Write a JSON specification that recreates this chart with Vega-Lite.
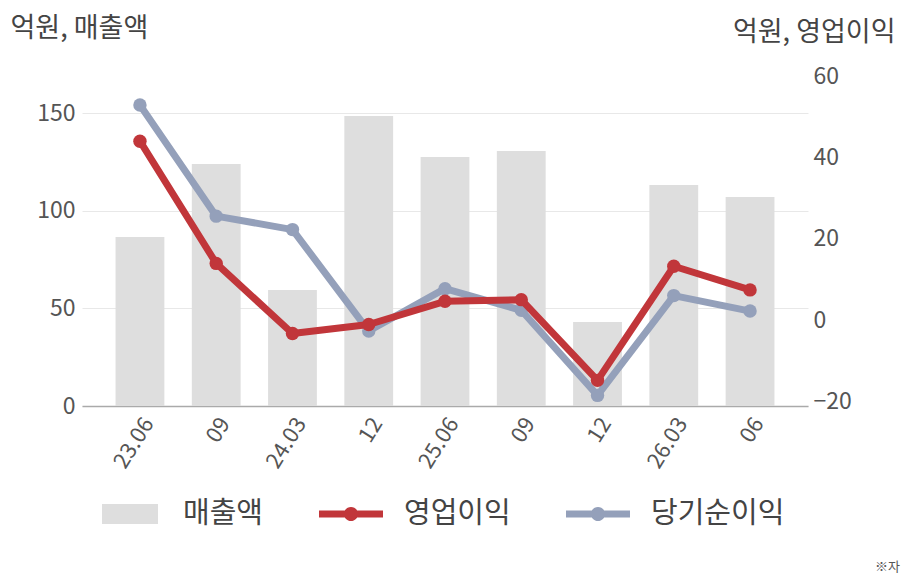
{
  "$schema": "https://vega.github.io/schema/vega-lite/v6.json",
  "width": 726,
  "height": 330,
  "autosize": "none",
  "padding": {"left": 82, "top": 76, "right": 100, "bottom": 174},
  "background": "white",
  "config": {
    "view": {"stroke": null},
    "font": "Noto Sans CJK KR"
  },
  "title": {
    "text": "※자",
    "orient": "bottom",
    "anchor": "end",
    "frame": "group",
    "fontSize": 13,
    "fontWeight": "normal",
    "color": "#555",
    "dx": 92,
    "offset": 32
  },
  "datasets": {
    "sales": [
      {"q": "23.06", "series": "매출액", "v": 86.5},
      {"q": "23.09", "series": "매출액", "v": 123.9},
      {"q": "24.03", "series": "매출액", "v": 59.4},
      {"q": "24.12", "series": "매출액", "v": 148.5},
      {"q": "25.06", "series": "매출액", "v": 127.5},
      {"q": "25.09", "series": "매출액", "v": 130.6},
      {"q": "25.12", "series": "매출액", "v": 43.0},
      {"q": "26.03", "series": "매출액", "v": 113.2},
      {"q": "26.06", "series": "매출액", "v": 107.0}
    ],
    "profit": [
      {"q": "23.06", "series": "당기순이익", "v": 52.9},
      {"q": "23.09", "series": "당기순이익", "v": 25.6},
      {"q": "24.03", "series": "당기순이익", "v": 22.3},
      {"q": "24.12", "series": "당기순이익", "v": -2.6},
      {"q": "25.06", "series": "당기순이익", "v": 7.8},
      {"q": "25.09", "series": "당기순이익", "v": 2.5},
      {"q": "25.12", "series": "당기순이익", "v": -18.4},
      {"q": "26.03", "series": "당기순이익", "v": 6.1},
      {"q": "26.06", "series": "당기순이익", "v": 2.3},
      {"q": "23.06", "series": "영업이익", "v": 44.0},
      {"q": "23.09", "series": "영업이익", "v": 14.0},
      {"q": "24.03", "series": "영업이익", "v": -3.2},
      {"q": "24.12", "series": "영업이익", "v": -1.0},
      {"q": "25.06", "series": "영업이익", "v": 4.7},
      {"q": "25.09", "series": "영업이익", "v": 5.1},
      {"q": "25.12", "series": "영업이익", "v": -14.7},
      {"q": "26.03", "series": "영업이익", "v": 13.3},
      {"q": "26.06", "series": "영업이익", "v": 7.5}
    ]
  },
  "encoding": {
    "x": {
      "field": "q",
      "type": "ordinal",
      "sort": null,
      "scale": {"paddingInner": 0.36, "paddingOuter": 0.44},
      "axis": {
        "title": null,
        "labelAngle": -58,
        "labelAlign": "right",
        "labelBaseline": "top",
        "labelFontSize": 22,
        "labelColor": "#555",
        "labelPadding": 8,
        "ticks": false,
        "grid": false,
        "domainColor": "#aaa",
        "domainWidth": 1.5,
        "labelExpr": "indexof(['23.06','24.03','25.06','26.03'], datum.value) >= 0 ? datum.value : slice(datum.value, 3)"
      }
    }
  },
  "layer": [
    {
      "data": {"name": "sales"},
      "mark": {"type": "bar", "color": "#dedede"},
      "encoding": {
        "y": {
          "field": "v",
          "type": "quantitative",
          "scale": {"domain": [0, 169], "nice": false},
          "axis": {
            "title": "억원, 매출액",
            "titleAngle": 0,
            "titleX": -72,
            "titleY": -48,
            "titleAlign": "left",
            "titleBaseline": "middle",
            "titleFontSize": 27,
            "titleFontWeight": "normal",
            "titleColor": "#444",
            "values": [0, 50, 100, 150],
            "grid": true,
            "gridColor": "#e8e8e8",
            "domain": false,
            "ticks": false,
            "labelFontSize": 23,
            "labelColor": "#555",
            "labelPadding": 7
          }
        },
        "color": {
          "field": "series",
          "type": "nominal",
          "scale": {
            "domain": ["매출액", "영업이익", "당기순이익"],
            "range": ["#dedede", "#c1363a", "#94a0ba"]
          },
          "legend": {
            "title": null,
            "orient": "none",
            "legendX": 16,
            "legendY": 406,
            "direction": "horizontal",
            "symbolSize": 4096,
            "symbolOpacity": 1,
            "symbolStrokeWidth": 0,
            "labelFontSize": 29,
            "labelColor": "#444",
            "labelOffset": 21,
            "labelLimit": 300,
            "columnPadding": 55,
            "encode": {
              "symbols": {
                "update": {
                  "shape": {"signal": "datum.value === '매출액' ? 'M-0.875,-0.31H0.875V0.31H-0.875Z' : 'M-1,-0.11H1V0.11H-1Z M0.22,0A0.22,0.22 0 1,1 -0.22,0A0.22,0.22 0 1,1 0.22,0Z'"},
                  "fill": {"scale": "color", "field": "value"},
                  "stroke": {"value": "transparent"}
                }
              }
            }
          }
        }
      }
    },
    {
      "data": {"name": "profit"},
      "encoding": {
        "y": {
          "field": "v",
          "type": "quantitative",
          "scale": {"domain": [-21, 60], "nice": false},
          "axis": {
            "orient": "right",
            "title": "억원, 영업이익",
            "titleAngle": 0,
            "titleX": 87,
            "titleY": -44,
            "titleAlign": "right",
            "titleBaseline": "middle",
            "titleFontSize": 27,
            "titleFontWeight": "normal",
            "titleColor": "#444",
            "values": [-20, 0, 20, 40, 60],
            "grid": false,
            "domain": false,
            "ticks": false,
            "labelFontSize": 23,
            "labelColor": "#555",
            "labelPadding": 5
          }
        },
        "color": {"field": "series", "type": "nominal"}
      },
      "layer": [
        {
          "transform": [{"filter": "datum.series === '당기순이익'"}],
          "mark": {"type": "line", "strokeWidth": 7, "strokeJoin": "round", "point": {"size": 180, "filled": true, "opacity": 1}}
        },
        {
          "transform": [{"filter": "datum.series === '영업이익'"}],
          "mark": {"type": "line", "strokeWidth": 7, "strokeJoin": "round", "point": {"size": 180, "filled": true, "opacity": 1}}
        }
      ]
    }
  ],
  "resolve": {"scale": {"y": "independent"}}
}
